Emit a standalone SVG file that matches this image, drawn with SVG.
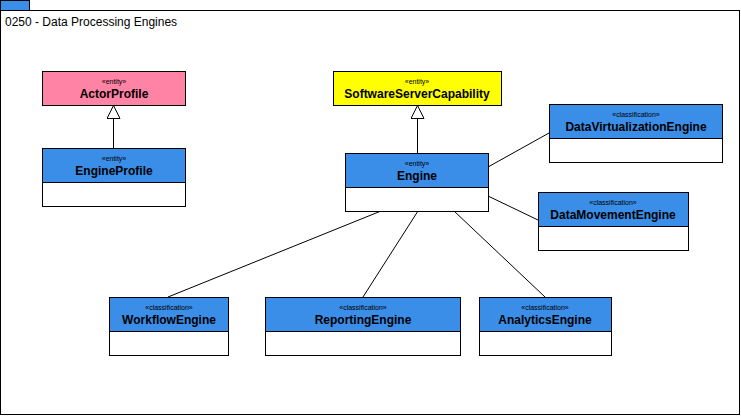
<svg xmlns="http://www.w3.org/2000/svg" width="741" height="416" viewBox="0 0 741 416">
<style>
text{font-family:"Liberation Sans",Arial,sans-serif;fill:#000}
.st{font-size:7px;text-anchor:middle}
.nm{font-size:12px;font-weight:bold;text-anchor:middle}
.box{stroke:#000;stroke-width:1}
.blue{fill:#3a8ee8}
.w{fill:#fff}
.ln{stroke:#000;stroke-width:1;fill:none}
</style>
<defs>
<marker id="gen" markerWidth="16" markerHeight="16" refX="14" refY="7" orient="auto" markerUnits="userSpaceOnUse">
<path d="M1,0.5 L14,7 L1,13.5 Z" fill="#fff" stroke="#000" stroke-width="1"/>
</marker>
</defs>
<g id="frame">
<rect x="0.5" y="0.5" width="29" height="10" fill="#3a8ee8" stroke="#000"/>
<rect x="0.5" y="10.5" width="739" height="404" fill="#fff" stroke="#000"/>
<text x="5" y="26" font-size="12">0250 - Data Processing Engines</text>
</g>
<g id="connectors">
<line class="ln" x1="113.5" y1="148" x2="113.5" y2="105.5" marker-end="url(#gen)"/>
<line class="ln" x1="417.5" y1="153" x2="417.5" y2="105.5" marker-end="url(#gen)"/>
<line class="ln" x1="488" y1="167" x2="549" y2="133"/>
<line class="ln" x1="488" y1="196" x2="538" y2="220"/>
<line class="ln" x1="381" y1="211" x2="168" y2="297"/>
<line class="ln" x1="418" y1="211" x2="363" y2="297"/>
<line class="ln" x1="454" y1="211" x2="545" y2="297"/>
</g>
<g id="ActorProfile">
<rect class="box" x="42.5" y="71.5" width="143" height="34" fill="#ff83a5"/>
<text class="st" x="114" y="84">«entity»</text>
<text class="nm" x="114" y="98">ActorProfile</text>
</g>
<g id="EngineProfile">
<rect class="box blue" x="42.5" y="148.5" width="143" height="34"/>
<rect class="box w" x="42.5" y="182.5" width="143" height="24"/>
<text class="st" x="114" y="161">«entity»</text>
<text class="nm" x="114" y="175">EngineProfile</text>
</g>
<g id="SoftwareServerCapability">
<rect class="box" x="333.5" y="71.5" width="168" height="34" fill="#ffff00"/>
<text class="st" x="417" y="84">«entity»</text>
<text class="nm" x="417" y="98">SoftwareServerCapability</text>
</g>
<g id="Engine">
<rect class="box blue" x="345.5" y="153.5" width="143" height="34"/>
<rect class="box w" x="345.5" y="187.5" width="143" height="24"/>
<text class="st" x="417" y="166">«entity»</text>
<text class="nm" x="417" y="180">Engine</text>
</g>
<g id="DataVirtualizationEngine">
<rect class="box blue" x="549.5" y="104.5" width="173" height="34"/>
<rect class="box w" x="549.5" y="138.5" width="173" height="24"/>
<text class="st" x="636" y="117">«classification»</text>
<text class="nm" x="636" y="131">DataVirtualizationEngine</text>
</g>
<g id="DataMovementEngine">
<rect class="box blue" x="538.5" y="192.5" width="150" height="34"/>
<rect class="box w" x="538.5" y="226.5" width="150" height="24"/>
<text class="st" x="613" y="205">«classification»</text>
<text class="nm" x="613" y="219">DataMovementEngine</text>
</g>
<g id="WorkflowEngine">
<rect class="box blue" x="109.5" y="297.5" width="119" height="34"/>
<rect class="box w" x="109.5" y="331.5" width="119" height="24"/>
<text class="st" x="169" y="310">«classification»</text>
<text class="nm" x="169" y="324">WorkflowEngine</text>
</g>
<g id="ReportingEngine">
<rect class="box blue" x="265.5" y="297.5" width="195" height="34"/>
<rect class="box w" x="265.5" y="331.5" width="195" height="24"/>
<text class="st" x="363" y="310">«classification»</text>
<text class="nm" x="363" y="324">ReportingEngine</text>
</g>
<g id="AnalyticsEngine">
<rect class="box blue" x="479.5" y="297.5" width="132" height="34"/>
<rect class="box w" x="479.5" y="331.5" width="132" height="24"/>
<text class="st" x="545" y="310">«classification»</text>
<text class="nm" x="545" y="324">AnalyticsEngine</text>
</g>
</svg>
